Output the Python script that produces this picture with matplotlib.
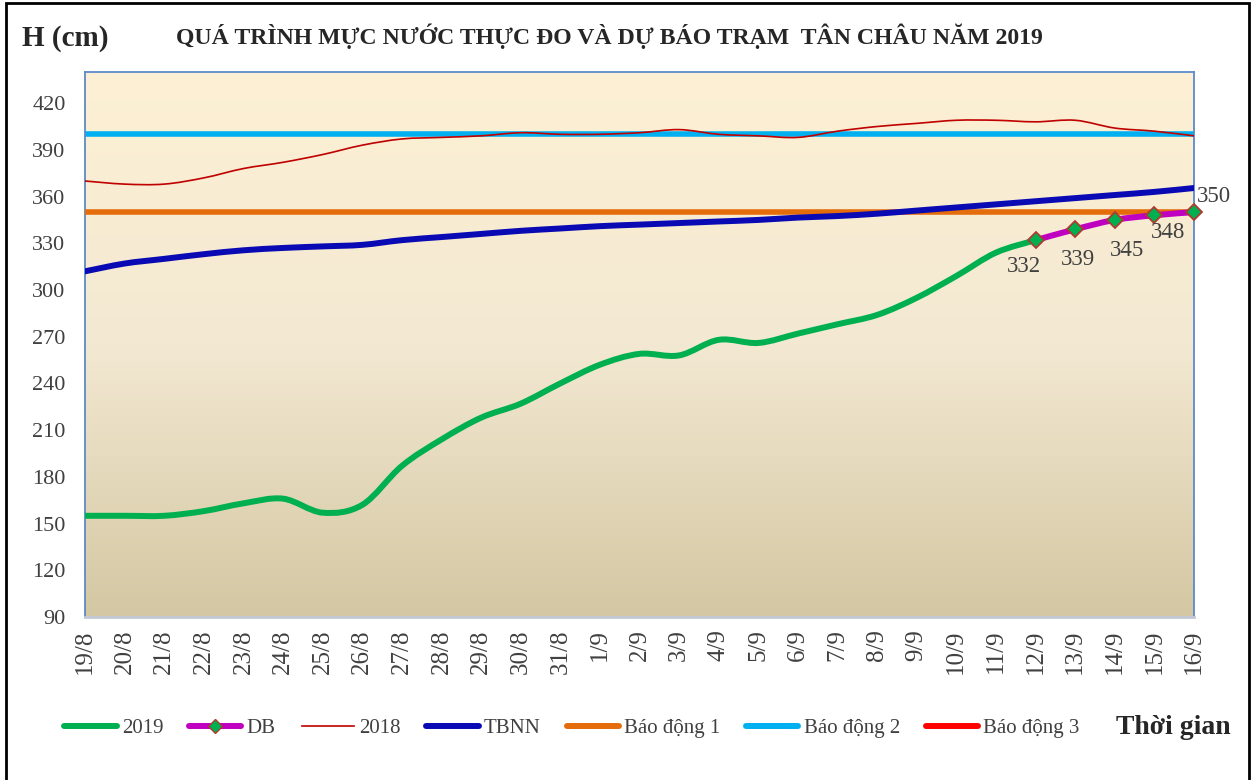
import numpy as np
import matplotlib
matplotlib.use('Agg')
import matplotlib.pyplot as plt
from matplotlib.path import Path
from matplotlib.patches import PathPatch, Rectangle
from matplotlib.lines import Line2D
from matplotlib.colors import LinearSegmentedColormap

plt.rcParams['font.family'] = ['Liberation Serif', 'DejaVu Serif']

# nhãn ngày
ngay = ['19/8', '20/8', '21/8', '22/8', '23/8', '24/8', '25/8', '26/8', '27/8',
        '28/8', '29/8', '30/8', '31/8', '1/9', '2/9', '3/9', '4/9', '5/9', '6/9',
        '7/9', '8/9', '9/9', '10/9', '11/9', '12/9', '13/9', '14/9', '15/9', '16/9']

# mực nước thực đo 2019 (19/8 -> 12/9)
h2019 = [155, 155, 155, 158, 163, 166, 157, 162, 187, 204, 218, 227, 240, 252,
         259, 258, 268, 266, 272, 278, 284, 295, 309, 324, 332]
# dự báo (12/9 -> 16/9)
h_db = [332, 339, 345, 348, 350]
# năm 2018
h2018 = [370, 368, 368, 372, 378, 382, 387, 393, 397, 398, 399, 401, 400, 400,
         401, 403, 400, 399, 398, 402, 405, 407, 409, 409, 408, 409, 404, 402, 399]
# trung bình nhiều năm
tbnn = [312, 317, 320, 323, 325.5, 327, 328, 329, 332, 334, 336, 338, 339.5, 341,
        342, 343, 344, 345, 346.5, 347.5, 349, 351, 353, 355, 357, 359, 361, 363, 365.5]
bd1, bd2, bd3 = 350, 400, 450

x_all = np.arange(len(ngay))
x_2019 = x_all[:len(h2019)]
x_db = x_all[len(h2019) - 1:]


def duong_cong(xs, ys):
    # đường trơn kiểu Excel (Catmull-Rom -> Bezier)
    p = np.column_stack([xs, ys]).astype(float)
    n = len(p)
    verts = [p[0]]
    codes = [Path.MOVETO]
    for i in range(n - 1):
        p0 = p[max(i - 1, 0)]
        p1 = p[i]
        p2 = p[i + 1]
        p3 = p[min(i + 2, n - 1)]
        verts += [p1 + (p2 - p0) / 6, p2 - (p3 - p1) / 6, p2]
        codes += [Path.CURVE4] * 3
    return Path(verts, codes)


fig = plt.figure(figsize=(12.59, 7.8), dpi=100)
ax = fig.add_axes([85 / 1259, 1 - 617 / 780, (1194 - 85) / 1259, (617 - 72) / 780])
ax.set_facecolor('none')

# nền chuyển màu: sáng ở trên, sậm ở dưới
grad = np.linspace(0, 1, 256).reshape(-1, 1)
cmap = LinearSegmentedColormap.from_list('nen', ['#FDF0D4', '#F3E9D2', '#D4C7A3'])
ax.imshow(grad, extent=[0, len(ngay) - 1, 90, 440], aspect='auto', cmap=cmap,
          zorder=0, origin='upper')
ax.set_xlim(0, len(ngay) - 1)
ax.set_ylim(90, 440)

ax.plot(x_all, [bd3] * len(x_all), color='#FF0000', lw=4.5, zorder=2)
ax.plot(x_all, [bd2] * len(x_all), color='#00B0F0', lw=4, zorder=2)
ax.plot(x_all, [bd1] * len(x_all), color='#E46C0A', lw=4, zorder=3)

ax.add_patch(PathPatch(duong_cong(x_all, h2018), fill=False, edgecolor='#C00000',
                       lw=1.2, zorder=3))
ax.add_patch(PathPatch(duong_cong(x_all, tbnn), fill=False, edgecolor='#0A0AB4',
                       lw=4.3, zorder=4, capstyle='round'))
ax.add_patch(PathPatch(duong_cong(x_2019, h2019), fill=False, edgecolor='#00B050',
                       lw=4.3, zorder=5, capstyle='round'))
ax.add_patch(PathPatch(duong_cong(x_db, h_db), fill=False, edgecolor='#C000C0',
                       lw=4.3, zorder=6, capstyle='round'))
ax.plot(x_db, h_db, ls='none', marker='D', ms=8, mfc='#00B050', mec='#B03A30',
        mew=1.3, zorder=7, clip_on=False)

lech = [(-8.5, -19), (2, -21.5), (8.5, -22), (9.5, -12.5), (14, 11.5)]
for xi, yi, (dx, dy) in zip(x_db, h_db, lech):
    ax.annotate(str(yi), (xi, yi), xytext=(dx, dy), textcoords='offset points',
                ha='center', va='center', fontsize=16.5, color='#404040',
                annotation_clip=False, zorder=8)

ax.set_yticks(range(90, 421, 30))
ax.set_xticks(x_all)
ax.set_xticklabels(ngay, rotation=90)
ax.tick_params(axis='y', length=0, pad=14, labelsize=16, labelcolor='#404040')
ax.tick_params(axis='x', length=0, pad=9, labelsize=18, labelcolor='#404040')
for s in ['left', 'right', 'top']:
    ax.spines[s].set_color('#5B8BC9')
    ax.spines[s].set_linewidth(1.3)
ax.spines['bottom'].set_color('#C3CAD6')
ax.spines['bottom'].set_linewidth(2)

fig.text(22 / 1259, 1 - 38 / 780, 'H (cm)', fontsize=21, fontweight='bold',
         color='#262626', ha='left', va='center')
fig.text(609 / 1259, 1 - 36 / 780,
         'QUÁ TRÌNH MỰC NƯỚC THỰC ĐO VÀ DỰ BÁO TRẠM  TÂN CHÂU NĂM 2019',
         fontsize=17.1, fontweight='bold', color='#262626', ha='center', va='center')
fig.text(1116 / 1259, 1 - 727 / 780, 'Thời gian', fontsize=20, fontweight='bold',
         color='#262626', ha='left', va='center')

handles = [
    Line2D([], [], color='#00B050', lw=4.3, solid_capstyle='round'),
    Line2D([], [], color='#C000C0', lw=4.3, solid_capstyle='round', marker='D',
           ms=7, mfc='#00B050', mec='#B03A30'),
    Line2D([], [], color='#C00000', lw=1.2),
    Line2D([], [], color='#0A0AB4', lw=4.3, solid_capstyle='round'),
    Line2D([], [], color='#E46C0A', lw=4.3, solid_capstyle='round'),
    Line2D([], [], color='#00B0F0', lw=4.3, solid_capstyle='round'),
    Line2D([], [], color='#FF0000', lw=4.3, solid_capstyle='round'),
]
labels = ['2019', 'DB', '2018', 'TBNN', 'Báo động 1', 'Báo động 2', 'Báo động 3']
leg = fig.legend(handles, labels, loc='center left',
                 bbox_to_anchor=(54 / 1259, 1 - 728 / 780), ncol=7, frameon=False,
                 fontsize=15, handlelength=2.5, handletextpad=0.25,
                 columnspacing=1.25, borderpad=0, numpoints=1)
for t in leg.get_texts():
    t.set_color('#404040')

# khung ngoài
fig.patches.append(Rectangle((6 / 1259, -0.05), (1249 - 6) / 1259, 1.05 - 3 / 780,
                             transform=fig.transFigure, fill=False, edgecolor='black',
                             lw=2, zorder=10))

fig.savefig('out.png', dpi=100)
